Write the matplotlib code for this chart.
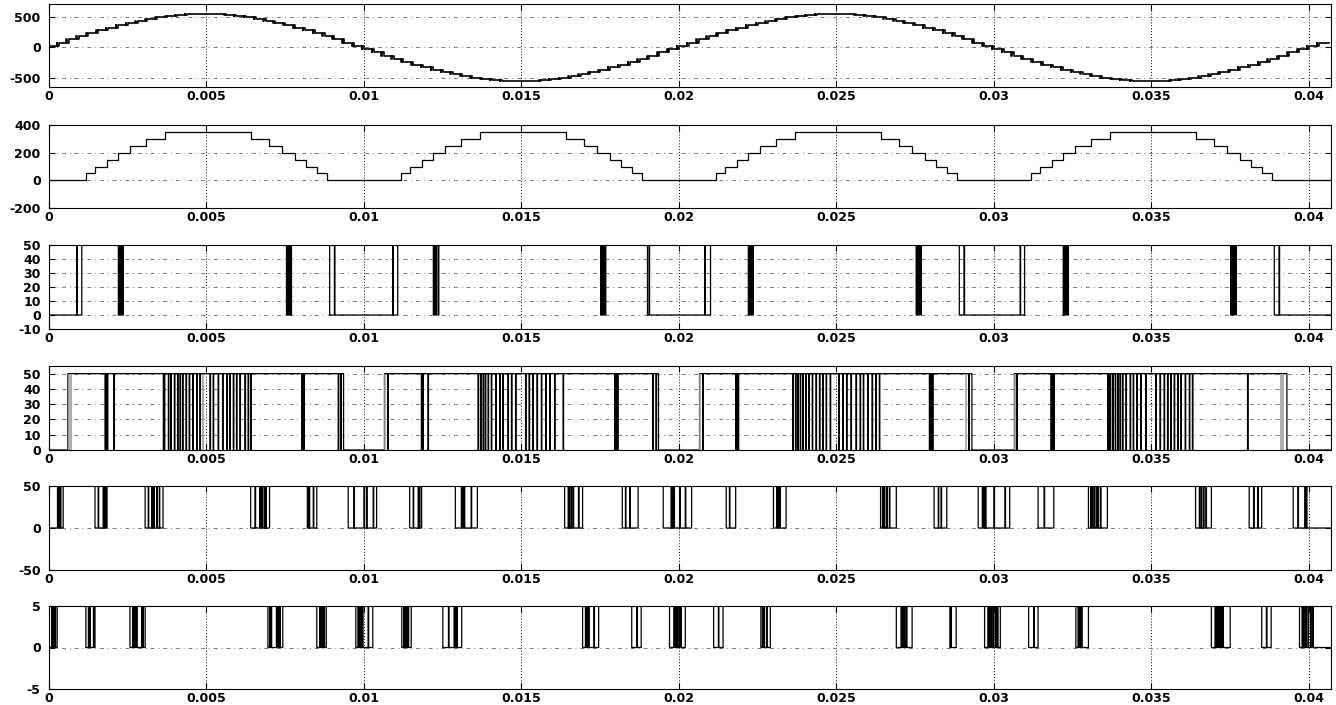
import numpy as np
import matplotlib.pyplot as plt

plt.rcParams['font.family'] = ['DejaVu Sans']
plt.rcParams['font.size'] = 9
plt.rcParams['font.weight'] = 'bold'
plt.rcParams['axes.unicode_minus'] = False

t_end = 0.0407
x_ticks = [0, 0.005, 0.01, 0.015, 0.02, 0.025, 0.03, 0.035, 0.04]
x_labels = ['0', '0.005', '0.01', '0.015', '0.02', '0.025', '0.03', '0.035', '0.04']

# --- panel 1: inverter output voltage, one level per step ---
step_dt = 0.0003125
v_out = [27, 81, 134, 185, 235, 283, 328, 370, 408, 442, 472, 497, 518, 533, 544, 549,
         549, 544, 533, 518, 497, 472, 442, 408, 370, 328, 283, 235, 185, 134, 81, 27,
         -27, -81, -134, -185, -235, -283, -328, -370, -408, -442, -472, -497, -518, -533, -544, -549,
         -549, -544, -533, -518, -497, -472, -442, -408, -370, -328, -283, -235, -185, -134, -81, -27,
         27, 81, 134, 185, 235, 283, 328, 370, 408, 442, 472, 497, 518, 533, 544, 549,
         549, 544, 533, 518, 497, 472, 442, 408, 370, 328, 283, 235, 185, 134, 81, 27,
         -27, -81, -134, -185, -235, -283, -328, -370, -408, -442, -472, -497, -518, -533, -544, -549,
         -549, -544, -533, -518, -497, -472, -442, -408, -370, -328, -283, -235, -185, -134, -81, -27,
         27, 81]

# --- panel 2: rectified staircase reference ---
stair_up_levels = [50, 100, 150, 200, 250, 300, 350]
stair_up_times = [0.00117, 0.00146, 0.00183, 0.0022, 0.00257, 0.00307, 0.00368]
stair_down_levels = [300, 250, 200, 150, 100, 50, 0]
stair_down_times = [0.0064, 0.00697, 0.0074, 0.0078, 0.00817, 0.0085, 0.00883]
stair_cycles = [0, 0.01, 0.02, 0.03]

# --- panels 3-6: gate signals (low zones + narrow toggles) ---
p3_zones = [(0, 0.00104), (0.00891, 0.01107), (0.0190, 0.0210), (0.0289, 0.03097), (0.0389, t_end)]
p3_flips = [0.00088, 0.00906, 0.01091, 0.01905, 0.02082, 0.02905, 0.03083, 0.03905,
            0.00220, 0.00224, 0.00229, 0.00234, 0.00754, 0.00758, 0.00763, 0.00768,
            0.01220, 0.01224, 0.01229, 0.01236, 0.01752, 0.01756, 0.01761, 0.01766,
            0.02220, 0.02224, 0.02229, 0.02234, 0.02753, 0.02757, 0.02762, 0.02768,
            0.03220, 0.03224, 0.03229, 0.03234, 0.03752, 0.03756, 0.03761, 0.03768]

p4_zones = [(0, 0.0006), (0.00935, 0.01065), (0.01935, 0.02065), (0.0293, 0.03065), (0.0393, t_end)]
p4_flips = [0.00178, 0.00181, 0.00185, 0.00205,
            0.00363, 0.00366, 0.00379, 0.00386, 0.00398, 0.00408, 0.00416, 0.00424, 0.00435,
            0.00445, 0.00456, 0.00469, 0.00479, 0.00511, 0.00521, 0.00537, 0.00551, 0.00564,
            0.00574, 0.00585, 0.00595, 0.00606, 0.00622, 0.00632, 0.0064,
            0.00802, 0.00805, 0.00809, 0.00918, 0.00926,
            0.01075, 0.01182, 0.01186, 0.01203,
            0.01362, 0.0137, 0.01378, 0.01385, 0.01394, 0.01404, 0.01418, 0.01431, 0.01441,
            0.01457, 0.01468, 0.01481, 0.01513, 0.01524, 0.01536, 0.01549, 0.01563, 0.01577,
            0.0159, 0.01605, 0.01632,
            0.01796, 0.018, 0.01805, 0.01917, 0.01927,
            0.02075, 0.0218, 0.02184, 0.02188,
            0.02361, 0.0237, 0.02377, 0.02385, 0.02393, 0.02402, 0.02412, 0.02423, 0.02435,
            0.02446, 0.02456, 0.02467, 0.0248, 0.02507, 0.0252, 0.02532, 0.02546, 0.02562,
            0.02575, 0.02585, 0.02599, 0.02613, 0.02625, 0.02636,
            0.02795, 0.02799, 0.02805, 0.0292,
            0.03072, 0.03181, 0.03185, 0.0319,
            0.03361, 0.03365, 0.03369, 0.03377, 0.03385, 0.03393, 0.034, 0.03408, 0.03419,
            0.03432, 0.03442, 0.03453, 0.03466, 0.03482, 0.03514, 0.03527, 0.0354, 0.03551,
            0.03561, 0.03572, 0.03583, 0.03593, 0.03607, 0.0362, 0.0363,
            0.03805]
p4_gray = [0.00065, 0.0007, 0.00488, 0.01068, 0.02068, 0.02911, 0.03068, 0.03912, 0.03918]

p5_zones = [(0, 0.00045), (0.00146, 0.00184), (0.00305, 0.00362), (0.0064, 0.007), (0.0082, 0.0085),
            (0.0095, 0.0104), (0.01145, 0.01183), (0.0129, 0.0136), (0.01637, 0.01694),
            (0.0182, 0.0187), (0.0195, 0.0204), (0.0215, 0.0218), (0.023, 0.0234),
            (0.0264, 0.0269), (0.0281, 0.0285), (0.0295, 0.0305), (0.0314, 0.0319),
            (0.033, 0.0336), (0.0364, 0.0369), (0.0381, 0.0385), (0.0395, t_end)]
p5_flips = [0.00027, 0.00033, 0.00036, 0.00156, 0.00172, 0.00176, 0.0018,
            0.00315, 0.00326, 0.00333, 0.00342, 0.0035,
            0.00654, 0.00669, 0.00673, 0.00677, 0.00684, 0.00688,
            0.00823, 0.00826, 0.00839, 0.00968, 0.01, 0.01008, 0.01029,
            0.01156, 0.01172, 0.01176, 0.01309, 0.01313, 0.01318, 0.0134,
            0.01648, 0.01652, 0.01658, 0.01664, 0.01681, 0.0183, 0.01844,
            0.01975, 0.01979, 0.01984, 0.02002, 0.0202, 0.0216, 0.0231, 0.02315, 0.0232,
            0.02646, 0.02652, 0.0266, 0.02668, 0.02823, 0.02832,
            0.02963, 0.02968, 0.02973, 0.03, 0.03035, 0.03159,
            0.03307, 0.03312, 0.03318, 0.03325, 0.0333, 0.03338,
            0.03652, 0.03658, 0.03665, 0.03673, 0.03824, 0.03837, 0.03965, 0.03987, 0.03992]

p6_zones = [(0, 0.00026), (0.00117, 0.00146), (0.00257, 0.00305), (0.00695, 0.00742), (0.0085, 0.0088),
            (0.00974, 0.01028), (0.0112, 0.0115), (0.0125, 0.0131), (0.01694, 0.01745),
            (0.0185, 0.0188), (0.0197, 0.0202), (0.0211, 0.0214), (0.0226, 0.0229),
            (0.0269, 0.0274), (0.0286, 0.0288), (0.0297, 0.0302), (0.0311, 0.0314),
            (0.0326, 0.033), (0.0369, 0.0375), (0.0385, 0.0388), (0.0397, t_end)]
p6_flips = [0.00009, 0.00014, 0.00019, 0.00125, 0.00129, 0.00141,
            0.00266, 0.0027, 0.00274, 0.00278, 0.00294, 0.00298,
            0.00701, 0.00705, 0.00722, 0.00727, 0.00732, 0.0086, 0.00864, 0.00868, 0.00873,
            0.00981, 0.00985, 0.0099, 0.00995, 0.01013, 0.01126, 0.0113, 0.01135, 0.0114,
            0.01268, 0.01286, 0.0129, 0.01295, 0.01703, 0.01708, 0.01713, 0.0173, 0.01866,
            0.01984, 0.01989, 0.01995, 0.02001, 0.02006, 0.02125, 0.02265, 0.0227, 0.02278,
            0.02705, 0.0271, 0.02716, 0.02722, 0.02863,
            0.02981, 0.02986, 0.02992, 0.02998, 0.03005, 0.03011, 0.03126,
            0.03267, 0.03272, 0.03278, 0.03702, 0.03707, 0.03713, 0.0372, 0.03726, 0.03865,
            0.03978, 0.03983, 0.0399, 0.03997, 0.04005, 0.04012]


def staircase_pwm(levels, dt, lead=0.00007, width=0.00002):
    # each step change is preceded by a short pulse to the new level
    t, y = [0.0], [levels[0]]
    for k in range(1, len(levels)):
        tk = k * dt
        a, b = levels[k - 1], levels[k]
        t += [tk - lead, tk - lead, tk - lead + width, tk - lead + width, tk, tk]
        y += [a, b, b, a, a, b]
    t.append(len(levels) * dt)
    y.append(levels[-1])
    return np.array(t), np.array(y)


def stair_signal():
    ev = []
    for c in stair_cycles:
        ev += [(c + s, v) for s, v in zip(stair_up_times, stair_up_levels)]
        ev += [(c + s, v) for s, v in zip(stair_down_times, stair_down_levels)]
    ev.sort()
    t = [0.0] + [e[0] for e in ev] + [t_end]
    y = [0] + [e[1] for e in ev]
    y.append(y[-1])
    return np.array(t), np.array(y)


def gate_signal(hi, lo, zones, flips, w=1.6e-5):
    t = np.arange(0, t_end, 2e-6)
    y = np.full(t.size, float(hi))
    for a, b in zones:
        y[(t >= a) & (t < b)] = lo
    for f in flips:
        m = (t >= f) & (t < f + w)
        y[m] = hi + lo - y[m]
    return t, y


fig = plt.figure(figsize=(13.36, 7.05), dpi=100)
W, H = 1336.0, 705.0
boxes = [(4, 87), (125, 208), (245, 329), (366, 450), (486, 570), (606, 689)]
axes = []
for top, bot in boxes:
    ax = fig.add_axes([49 / W, 1 - bot / H, 1282 / W, (bot - top) / H])
    axes.append(ax)

lw = 0.9
t1, y1 = staircase_pwm(v_out, step_dt)
axes[0].plot(t1, y1, color='black', lw=1.2)
axes[0].set_ylim(-650, 715)
axes[0].set_yticks([-500, 0, 500])

t2, y2 = stair_signal()
axes[1].step(t2, y2, where='post', color='black', lw=lw)
axes[1].set_ylim(-200, 400)
axes[1].set_yticks([-200, 0, 200, 400])

t3, y3 = gate_signal(50, 0, p3_zones, p3_flips)
axes[2].step(t3, y3, where='post', color='black', lw=lw)
axes[2].set_ylim(-10, 50)
axes[2].set_yticks([-10, 0, 10, 20, 30, 40, 50])

t4, y4 = gate_signal(50, 0, p4_zones, p4_flips)
axes[3].step(t4, y4, where='post', color='black', lw=lw)
axes[3].vlines(p4_gray, 0, 50, color='#a0a0a0', lw=1.2)
axes[3].set_ylim(0, 55)
axes[3].set_yticks([0, 10, 20, 30, 40, 50])

t5, y5 = gate_signal(50, 0, p5_zones, p5_flips)
axes[4].step(t5, y5, where='post', color='black', lw=lw)
axes[4].set_ylim(-50, 50)
axes[4].set_yticks([-50, 0, 50])

t6, y6 = gate_signal(5, 0, p6_zones, p6_flips)
axes[5].step(t6, y6, where='post', color='black', lw=lw)
axes[5].set_ylim(-5, 5)
axes[5].set_yticks([-5, 0, 5])

for ax in axes:
    ax.set_xlim(0, t_end)
    ax.set_xticks(x_ticks)
    ax.set_xticklabels(x_labels)
    ax.grid(axis='x', color='black', linestyle=(0, (1, 2)), lw=0.7)
    ax.grid(axis='y', color='#777777', linestyle=(0, (4, 4, 1, 4)), lw=0.7)
    ax.set_axisbelow(True)
    ax.tick_params(direction='in', top=True, right=True, length=4, width=0.8)
    ax.tick_params(axis='x', pad=2)
    ax.tick_params(axis='y', pad=6)
    for s in ax.spines.values():
        s.set_linewidth(0.8)

fig.savefig('out.png', dpi=100)
